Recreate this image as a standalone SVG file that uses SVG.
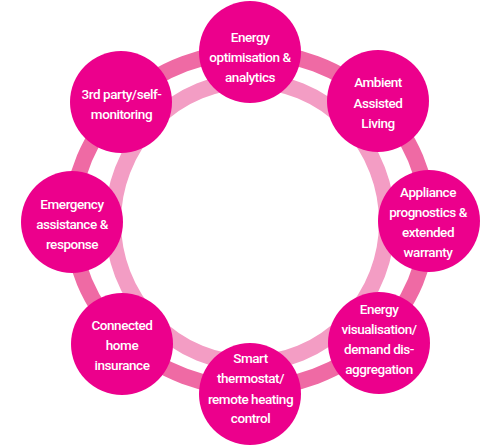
<svg xmlns="http://www.w3.org/2000/svg" width="500" height="446" viewBox="0 0 500 446">
<style>
.node{fill:#ec008c}
.lbl{fill:#ffffff;font-family:Roboto,"Liberation Sans",sans-serif;font-size:13.5px;font-weight:500;letter-spacing:-0.45px;text-anchor:middle}
.ring-outer{fill:none;stroke:#ef6aa4;stroke-width:16}
.ring-inner{fill:none;stroke:#f39dc4;stroke-width:16}
</style>
<rect width="500" height="446" fill="#ffffff"/>
<g id="connectors">
<ellipse class="ring-outer" cx="250" cy="220" rx="178" ry="168"/>
<ellipse class="ring-inner" cx="250" cy="222" rx="137" ry="141"/>
</g>
<g id="energy-optimisation">
<circle class="node" cx="250" cy="52" r="51"/>
<text class="lbl" x="250" y="41.7">Energy</text>
<text class="lbl" x="250" y="62.3">optimisation &amp;</text>
<text class="lbl" x="250" y="81.7">analytics</text>
</g>
<g id="ambient-assisted-living">
<circle class="node" cx="378" cy="101" r="51"/>
<text class="lbl" x="378" y="87.3">Ambient</text>
<text class="lbl" x="378" y="107.7">Assisted</text>
<text class="lbl" x="378" y="128.3">Living</text>
</g>
<g id="appliance-prognostics">
<circle class="node" cx="429" cy="221" r="51"/>
<text class="lbl" x="428" y="196.7">Appliance</text>
<text class="lbl" x="428" y="216.7">prognostics &amp;</text>
<text class="lbl" x="428" y="237">extended</text>
<text class="lbl" x="428" y="257">warranty</text>
</g>
<g id="energy-visualisation">
<circle class="node" cx="379" cy="343" r="51"/>
<text class="lbl" x="379" y="313.7">Energy</text>
<text class="lbl" x="379" y="334">visualisation/</text>
<text class="lbl" x="379" y="354">demand dis-</text>
<text class="lbl" x="379" y="373.7">aggregation</text>
</g>
<g id="smart-thermostat">
<circle class="node" cx="250" cy="394" r="51"/>
<text class="lbl" x="250.5" y="363.3">Smart</text>
<text class="lbl" x="250.5" y="383.3">thermostat/</text>
<text class="lbl" x="250.5" y="404">remote heating</text>
<text class="lbl" x="250.5" y="423.3">control</text>
</g>
<g id="connected-home-insurance">
<circle class="node" cx="122" cy="344" r="51"/>
<text class="lbl" x="122" y="329.7">Connected</text>
<text class="lbl" x="122" y="350.3">home</text>
<text class="lbl" x="122" y="369.7">insurance</text>
</g>
<g id="emergency-assistance">
<circle class="node" cx="72" cy="222" r="51"/>
<text class="lbl" x="72" y="209.3">Emergency</text>
<text class="lbl" x="72" y="229">assistance &amp;</text>
<text class="lbl" x="72" y="249">response</text>
</g>
<g id="third-party-monitoring">
<circle class="node" cx="121" cy="102" r="51"/>
<text class="lbl" x="121.5" y="99.3">3rd party/self-</text>
<text class="lbl" x="121.5" y="119.3">monitoring</text>
</g>
</svg>
